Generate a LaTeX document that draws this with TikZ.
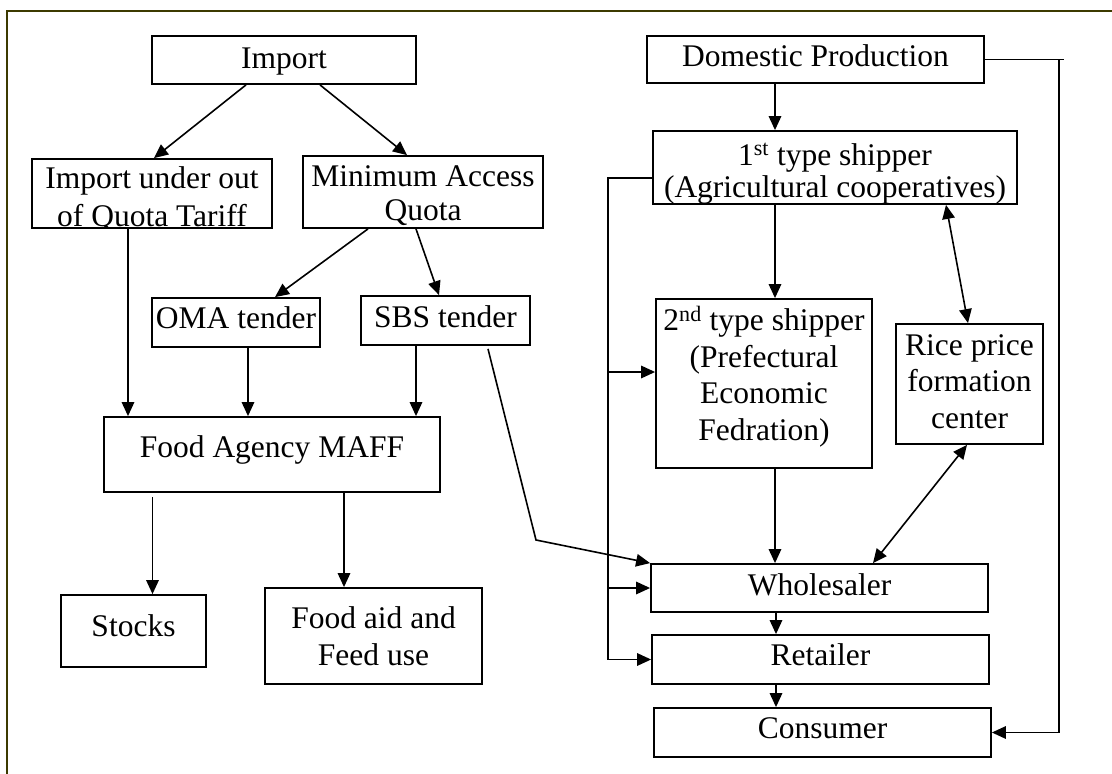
\documentclass[tikz,border=0pt]{standalone}
\usepackage{fontspec}
\setmainfont{Liberation Serif}
\usetikzlibrary{arrows.meta}
\definecolor{framecol}{RGB}{60,58,0}
\newcommand\bodyfont{\fontsize{31.5pt}{36.5pt}\selectfont}
\newcommand\ml[1]{\begin{tabular}[b]{@{}c@{}}#1\end{tabular}}
\begin{document}
\begin{tikzpicture}[x=1pt,y=-1pt,
  box/.style={draw, line width=1.8pt, rectangle, inner sep=0pt, font=\bodyfont, text depth=7pt},
  link/.style={line width=1.6pt},
  arr/.style={link, -{Triangle[length=14pt,width=12.5pt]}},
  darr/.style={link, {Triangle[length=14pt,width=12.5pt]}-{Triangle[length=14pt,width=12.5pt]}},
  frameline/.style={draw=framecol, line width=2.5pt}]
\useasboundingbox (0,0) rectangle (1112,774);

% page frame (top and left rules)
\draw[frameline] (1112,11) -- (7,11) -- (7,774);

% ---------- import side ----------
\node[box, minimum width=264pt, minimum height=48pt, text height=23pt] (imp) at (284,60) {Import};
\node[box, minimum width=240pt, minimum height=69pt,
  path picture={\node[inner sep=0pt, font=\bodyfont, text height=72pt, text depth=7pt]
    at (path picture bounding box.center) {\ml{Import under out\\[1.5pt] of Quota Tariff}};}]
  (iu) at (152,193.5) {};
\node[box, minimum width=240pt, minimum height=72pt, text height=63pt] (maq) at (423,192)
  {\ml{Minimum Access\\[-2.5pt] Quota}};
\node[box, minimum width=168pt, minimum height=49pt, text height=18pt] (oma) at (236,322.5) {OMA tender};
\node[box, minimum width=169pt, minimum height=49pt, text height=20pt] (sbs) at (445.5,320.5) {SBS tender};
\node[box, minimum width=336pt, minimum height=75pt, text height=12pt] (food) at (272,454.5) {Food Agency MAFF};
\node[box, minimum width=145pt, minimum height=72pt, text height=17pt] (stocks) at (133.5,631) {Stocks};
\node[box, minimum width=217pt, minimum height=96pt, text height=66.4pt] (aid) at (373.5,636)
  {\ml{Food aid and\\[1pt] Feed use}};

% ---------- domestic side ----------
\node[box, minimum width=337pt, minimum height=47pt, text height=21.4pt] (dp) at (815.5,59.5) {Domestic Production};
\node[box, minimum width=364pt, minimum height=73pt, text height=65.5pt, text depth=6.5pt] (s1) at (835,167.5)
  {\ml{1\textsuperscript{st} type shipper\\[-4.5pt] (Agricultural cooperatives)}};
\node[box, minimum width=216pt, minimum height=169pt, text height=120pt] (s2) at (764,383.5)
  {\ml{2\textsuperscript{nd} type shipper\\ (Prefectural\\ Economic\\ Fedration)}};
\node[box, minimum width=147pt, minimum height=120pt, text height=95pt] (rice) at (969.5,384)
  {\ml{Rice price\\ formation\\ center}};
\node[box, minimum width=337pt, minimum height=48pt, text height=21pt] (w) at (819.5,588) {Wholesaler};
\node[box, minimum width=337pt, minimum height=49pt, text height=19.4pt] (r) at (820.5,659.5) {Retailer};
\node[box, minimum width=337pt, minimum height=49pt, text height=18pt] (c) at (822.5,732.5) {Consumer};

% ---------- helper coordinates ----------
\coordinate (sbsbend) at (536,540);
\coordinate (busx) at (608,0);
\coordinate (rline) at (1059,0);
\coordinate (s1out) at ([yshift=-10.5pt]s1.west);
\coordinate (s2in) at ([yshift=11.5pt]s2.west);

% ---------- import flows ----------
\draw[arr] ([xshift=-38pt]imp.south) -- ([xshift=2pt]iu.north);
\draw[arr] ([xshift=36pt]imp.south) -- ([xshift=-16pt]maq.north);
\draw[arr] ([xshift=-55pt]maq.south) -- ([xshift=39pt]oma.north);
\draw[arr] ([xshift=-7pt]maq.south) -- ([xshift=-6.5pt]sbs.north);
\draw[arr] ([xshift=-24pt]iu.south) -- ([xshift=-24pt]iu.south |- food.north);
\draw[arr] ([xshift=12pt]oma.south) -- ([xshift=12pt]oma.south |- food.north);
\draw[arr] ([xshift=-29.5pt]sbs.south) -- ([xshift=-29.5pt]sbs.south |- food.north);
\draw[arr] ([xshift=42.5pt,yshift=-3pt]sbs.south) -- (sbsbend) -- (w.north west);
\draw[arr] ([xshift=-119.5pt,yshift=-4pt]food.south) -- ([xshift=-119.5pt]food.south |- stocks.north);
\draw[arr] ([xshift=72pt]food.south) -- ([xshift=72pt]food.south |- aid.north);

% ---------- domestic flows ----------
\draw[arr] ([xshift=-40.5pt]dp.south) -- ([xshift=-40.5pt]dp.south |- s1.north);
\draw[arr] ([xshift=-60pt]s1.south) -- ([xshift=11pt]s2.north);
\draw[arr] ([xshift=11pt]s2.south) -- ([xshift=11pt]s2.south |- w.north);
\draw[arr] ([xshift=-43.5pt]w.south) -- ([xshift=-43.5pt]w.south |- r.north);
\draw[arr] ([xshift=-44.5pt]r.south) -- ([xshift=-44.5pt]r.south |- c.north);
\draw[darr] ([xshift=111pt]s1.south) -- ([xshift=-1.5pt]rice.north);
\draw[darr] ([xshift=-2.5pt]rice.south) -- ([xshift=53.5pt]w.north);

% side bus from the first shipper
\draw[link] (s1out) -- (s1out -| busx) -- (r.west -| busx);
\draw[arr] (s2in -| busx) -- (s2in);
\draw[arr] (w.west -| busx) -- (w.west);
\draw[arr] (r.west -| busx) -- (r.west);

% direct line from production to consumer
\draw[link] (dp.east) -- ([xshift=5pt]dp.east -| rline);
\draw[arr] (dp.east -| rline) |- (c.east);
\end{tikzpicture}
\end{document}
